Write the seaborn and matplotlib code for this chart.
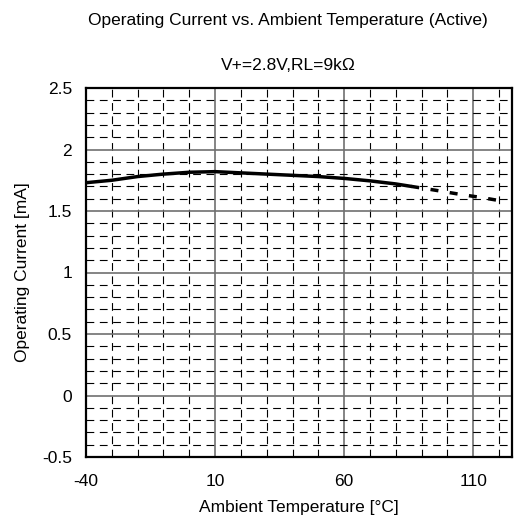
import numpy as np
import pandas as pd
import matplotlib
matplotlib.use("Agg")
import matplotlib.pyplot as plt
import seaborn as sns

# measured part (solid) and extrapolated part (dashed)
temp_solid = [-40, -30, -20, -10, 0, 10, 20, 30, 40, 50, 60, 70, 80, 86]
curr_solid = [1.73, 1.75, 1.78, 1.80, 1.815, 1.82, 1.81, 1.80, 1.79, 1.78, 1.765, 1.745, 1.72, 1.70]
temp_dash = [86, 95, 105, 113, 120]
curr_dash = [1.70, 1.67, 1.635, 1.61, 1.585]

x_ticks = [-40, 10, 60, 110]
y_ticks = [-0.5, 0, 0.5, 1, 1.5, 2, 2.5]
y_labels = ["-0.5", "0", "0.5", "1", "1.5", "2", "2.5"]

sns.set_style("white")
plt.rcParams['font.family'] = ['Liberation Sans', 'DejaVu Sans']
plt.rcParams['axes.unicode_minus'] = False
plt.rcParams['text.color'] = 'black'
plt.rcParams['axes.labelcolor'] = 'black'
plt.rcParams['xtick.color'] = 'black'
plt.rcParams['ytick.color'] = 'black'

fig = plt.figure(figsize=(5.14, 5.19), dpi=100)
ax = fig.add_axes([86/514, 1 - 457/519, 426/514, 369/519])

df1 = pd.DataFrame({"t": temp_solid, "i": curr_solid})
df2 = pd.DataFrame({"t": temp_dash, "i": curr_dash})
sns.lineplot(data=df1, x="t", y="i", ax=ax, color="black", linewidth=2.5, zorder=5)
sns.lineplot(data=df2, x="t", y="i", ax=ax, color="black", linewidth=2.5,
             linestyle=(0, (2.3, 3.3)), zorder=5)

ax.set_xlim(-40, 125)
ax.set_ylim(-0.5, 2.5)
ax.set_xticks(x_ticks)
ax.set_yticks(y_ticks)
ax.set_yticklabels(y_labels)
ax.set_xticks(np.arange(-40, 126, 10), minor=True)
ax.set_yticks(np.arange(-0.5, 2.51, 0.1), minor=True)
ax.grid(which="minor", color="black", linestyle=(0, (7, 5)), linewidth=0.8)
ax.grid(which="major", color="#707070", linestyle="-", linewidth=1.2)
ax.tick_params(which="both", length=0, labelsize=12.5)
ax.tick_params(axis="x", pad=12)
ax.tick_params(axis="y", pad=10)

for s in ax.spines.values():
    s.set_color("black")
    s.set_linewidth(1.6)

ax.set_xlabel("Ambient Temperature [°C]", fontsize=12.5, labelpad=8)
ax.set_ylabel("Operating Current [mA]", fontsize=12.5, labelpad=9)
fig.text(288/514, 1 - 20/519, "Operating Current vs. Ambient Temperature (Active)",
         ha="center", va="center", fontsize=12.5)
fig.text(288/514, 1 - 65/519, "V+=2.8V,RL=9kΩ", ha="center", va="center", fontsize=12.5)

fig.savefig("out.png", dpi=100)
